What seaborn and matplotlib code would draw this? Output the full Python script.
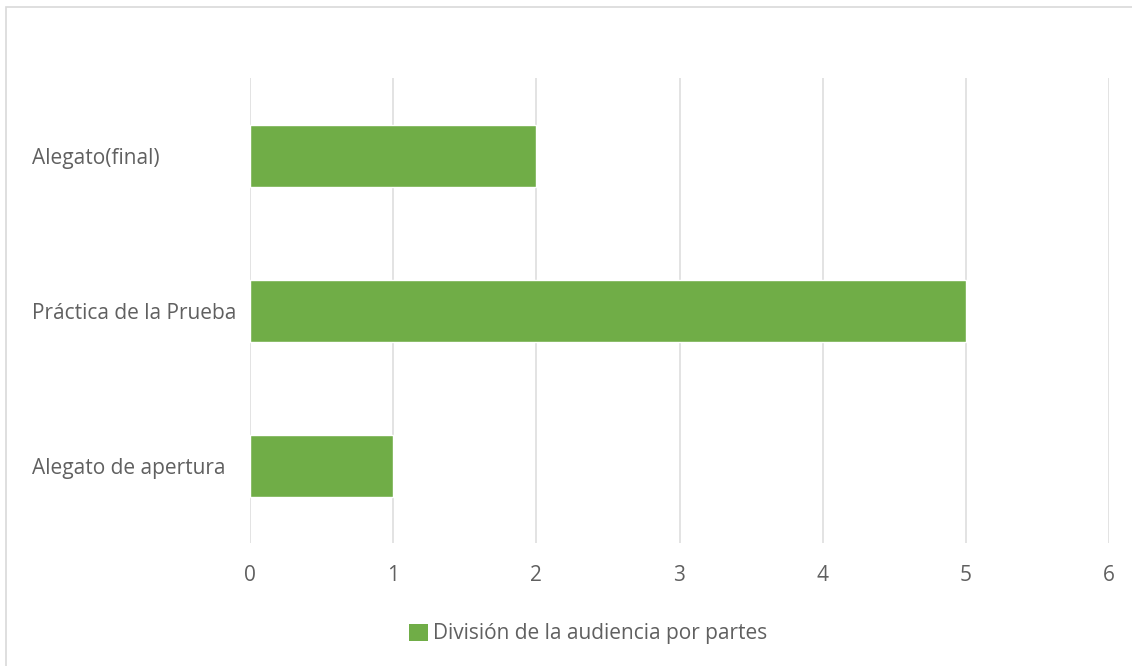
import matplotlib
matplotlib.use("Agg")
import matplotlib.pyplot as plt
import seaborn as sns
import pandas as pd
from matplotlib.patches import Rectangle, Patch

categories = ["Alegato(final)", "Práctica de la Prueba", "Alegato de apertura"]
values = [2, 5, 1]
series_name = "División de la audiencia por partes"
x_ticks = [0, 1, 2, 3, 4, 5, 6]

sns.set_theme(style="white")
plt.rcParams['font.family'] = ['Open Sans', 'DejaVu Sans']

df = pd.DataFrame({"cat": categories, "val": values})

fig = plt.figure(figsize=(11.32, 6.66), dpi=100)
ax = fig.add_axes([250/1132, 1-543/666, (1109-250)/1132, (543-78)/666])

green = "#70AD47"
sns.barplot(data=df, y="cat", x="val", orient="h", color=green, width=0.4,
            saturation=1, ax=ax, order=categories)

FS = 15
ax.set_xlim(0, 6)
ax.set_ylim(2.5, -0.5)
ax.set_xticks(x_ticks)
ax.set_xticklabels([str(t) for t in x_ticks])
ax.grid(axis="x", color="#dedede", linewidth=1.2)
ax.set_axisbelow(True)
for s in ax.spines.values():
    s.set_visible(False)
ax.set_xlabel("")
ax.set_ylabel("")
ax.tick_params(axis="both", length=0, colors="#606060", labelsize=FS)
ax.tick_params(axis="x", pad=16)
for lbl in ax.get_yticklabels():
    lbl.set_horizontalalignment("left")
    lbl.set_y(lbl.get_position()[1])
ax.tick_params(axis="y", pad=(250-32)*72/100)

fig.patches.append(Rectangle((6/1132, -0.1), 1.2, 1-7/666+0.1, transform=fig.transFigure,
                             fill=False, edgecolor="#d9d9d9", linewidth=1.2))

handles = [Patch(facecolor=green, edgecolor="none", label=series_name)]
fig.legend(handles=handles, loc="center", bbox_to_anchor=(588/1132, 1-634/666),
           frameon=False, fontsize=FS, labelcolor="#606060",
           handlelength=0.92, handleheight=0.92, handletextpad=0.25)

fig.savefig("out.png", dpi=100)
